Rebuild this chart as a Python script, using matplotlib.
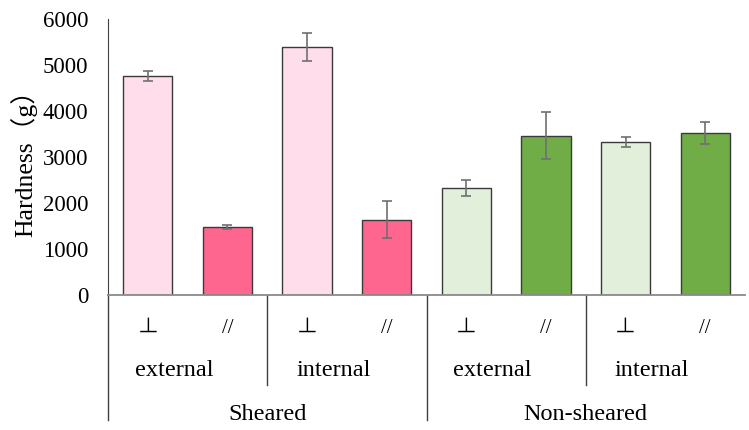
import matplotlib.pyplot as plt
import numpy as np

# data
orient = ['⊥', '//'] * 4
parts = ['external', 'internal', 'external', 'internal']
groups = ['Sheared', 'Non-sheared']
hardness = [4760, 1475, 5390, 1640, 2330, 3460, 3330, 3520]
hardness_err = [110, 40, 300, 400, 170, 510, 110, 240]
colors = ['#FFDDEA', '#FF668F', '#FFDDEA', '#FF668F',
          '#E2EFDA', '#70AD47', '#E2EFDA', '#70AD47']

plt.rcParams['font.family'] = ['Liberation Serif', 'Noto Sans CJK JP', 'DejaVu Serif']

fig = plt.figure(figsize=(7.49, 4.30), dpi=100)
ax = fig.add_axes([108 / 749, (430 - 295) / 430, (745 - 108) / 749, 276 / 430])

x = np.arange(len(hardness))
ax.bar(x, hardness, width=0.62, color=colors, edgecolor='#3a3a3a', linewidth=1, zorder=2)
ax.errorbar(x, hardness, yerr=hardness_err, fmt='none', ecolor='#707070',
            elinewidth=1.2, capsize=3.5, capthick=1.2, zorder=3)

ax.set_xlim(-0.5, 7.5)
ax.set_ylim(0, 6000)
ax.set_yticks(range(0, 6001, 1000))
ax.tick_params(axis='y', length=0, labelsize=16.5, pad=14)
ax.set_xticks([])
ax.set_ylabel('Hardness（g）', fontsize=18.5, labelpad=4)

for s in ['top', 'right']:
    ax.spines[s].set_visible(False)
ax.spines['left'].set_color('#404040')
ax.spines['bottom'].set_color('#8a8a8a')
ax.spines['bottom'].set_linewidth(1.3)

# multi-level category axis below the plot
trans = ax.get_xaxis_transform()
ax.plot([-0.5, -0.5], [0, -0.453], transform=trans, color='#404040', lw=1, clip_on=False)
ax.plot([3.5, 3.5], [0, -0.453], transform=trans, color='#404040', lw=1, clip_on=False)
for xs in [1.5, 5.5]:
    ax.plot([xs, xs], [0, -0.326], transform=trans, color='#404040', lw=1, clip_on=False)

for i, lab in enumerate(orient):
    ax.text(i, -0.12, lab, transform=trans, ha='center', va='center', fontsize=15)
for j, lab in enumerate(parts):
    ax.text(2 * j + 0.33, -0.272, lab, transform=trans, ha='center', va='center', fontsize=17.5)
for k, lab in enumerate(groups):
    ax.text(4 * k + 1.5, -0.432, lab, transform=trans, ha='center', va='center', fontsize=17.5)

fig.savefig('out.png', dpi=100)
